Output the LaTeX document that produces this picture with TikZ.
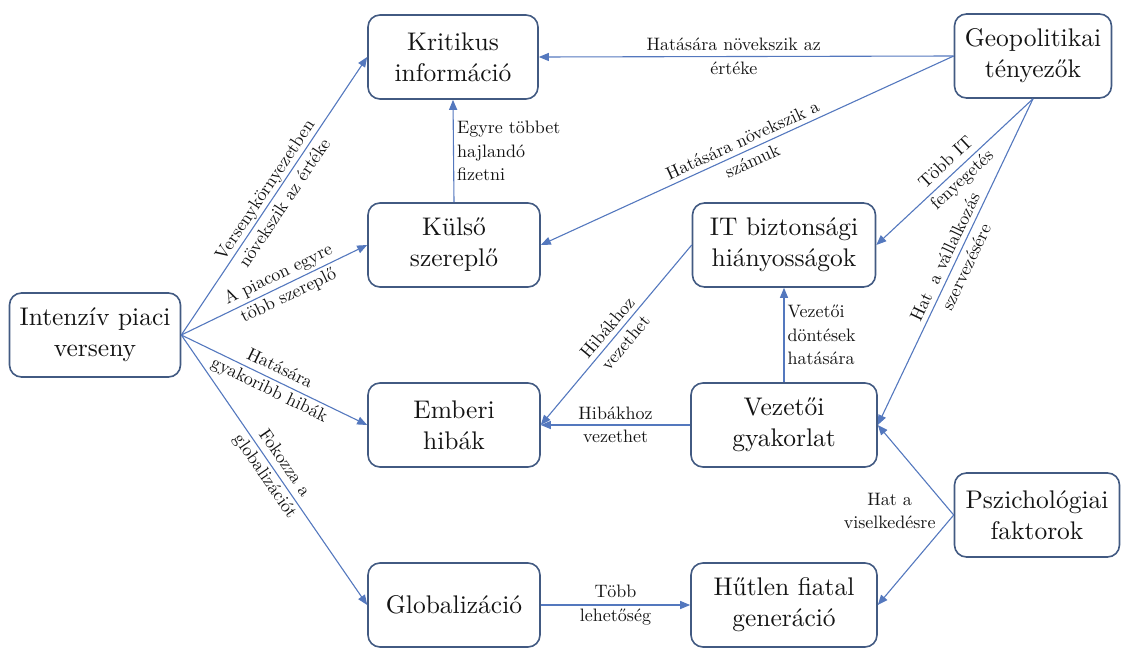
\documentclass[tikz,border=0pt]{standalone}
\usepackage{fontspec}
\setmainfont{lmroman10-regular.otf}
\usetikzlibrary{arrows.meta}
\definecolor{boxc}{RGB}{66,90,130}
\definecolor{linec}{RGB}{84,120,190}
\definecolor{txtc}{RGB}{20,20,20}
\begin{document}
\begin{tikzpicture}[x=1pt,y=-1pt,
  box/.style={draw=boxc, line width=1.6pt, rounded corners=12pt, fill=white, align=center,
    inner sep=0pt, font=\fontsize{25.5}{31}\selectfont, text=txtc, minimum height=84pt},
  lbl/.style={font=\fontsize{18}{23.5}\selectfont, text=txtc, align=center, inner sep=1pt},
  conn/.style={draw=linec, line width=1.1pt, -{Triangle[length=10pt,width=8pt]}}]
\useasboundingbox (0,0) rectangle (1127,648);

% nodes
\node[box, minimum width=170pt] (krit) at (453,57) {Kritikus\\információ};
\node[box, minimum width=157pt] (geo) at (1033,56) {Geopolitikai\\tényezők};
\node[box, minimum width=172pt] (kulso) at (454,245) {Külső\\szereplő};
\node[box, minimum width=183pt] (it) at (784,245) {IT biztonsági\\hiányosságok};
\node[box, minimum width=171pt] (intenziv) at (95,335) {Intenzív piaci\\verseny};
\node[box, minimum width=172pt] (emberi) at (454,425) {Emberi\\hibák};
\node[box, minimum width=186pt] (vez) at (784,425) {Vezetői\\gyakorlat};
\node[box, minimum width=165pt] (psz) at (1037,515) {Pszichológiai\\faktorok};
\node[box, minimum width=172pt] (glob) at (454,605) {Globalizáció};
\node[box, minimum width=186pt] (hutlen) at (784,605) {Hűtlen fiatal\\generáció};

% connectors from Intenzív piaci verseny
\draw[conn] (intenziv.east) -- node[lbl, sloped, midway] {Versenykörnyezetben\\növekszik az értéke} (krit.west);
\draw[conn] (intenziv.east) -- node[lbl, sloped, pos=0.55] {A piacon egyre\\több szereplő} (kulso.west);
\draw[conn] (intenziv.east) -- node[lbl, sloped, midway] {Hatására\\gyakoribb hibák} (emberi.west);
\draw[conn] (intenziv.east) -- node[lbl, sloped, midway] {Fokozza a\\globalizációt} (glob.west);

% Külső -> Kritikus
\draw[conn] (kulso.north) -- node[lbl, midway, right, align=left, xshift=2pt] {Egyre többet\\hajlandó\\fizetni} (krit.south);

% from Geopolitikai
\draw[conn] (geo.west) -- node[lbl, pos=0.53] {Hatására növekszik az\\értéke} (krit.east);
\draw[conn] (geo.west) -- node[lbl, sloped, midway] {Hatására növekszik a\\számuk} (kulso.east);
\draw[conn] (geo.south) -- node[lbl, sloped, midway] {Több IT\\fenyegetés} (it.east);
\draw[conn] (geo.south) -- node[lbl, sloped, midway] {Hat~~a vállalkozás\\szervezésére} (vez.east);

% Vezetői gyakorlat
\draw[conn] (vez.north) -- node[lbl, midway, right, align=left, xshift=2pt] {Vezetői\\döntések\\hatására} (it.south);
\draw[conn] (vez.west) -- node[lbl, midway] {Hibákhoz\\vezethet} (emberi.east);

% IT -> Emberi
\draw[conn] (it.west) -- node[lbl, sloped, midway] {Hibákhoz\\vezethet} (emberi.east);

% Pszichológiai faktorok
\draw[conn] (psz.west) -- (vez.east);
\draw[conn] (psz.west) -- (hutlen.east);
\node[lbl, anchor=east] (lblpsz) at ([xshift=-17pt, yshift=4pt]psz.west) {Hat a\\viselkedésre};

% Globalizáció -> Hűtlen
\draw[conn] (glob.east) -- node[lbl, midway] {Több\\lehetőség} (hutlen.west);
\end{tikzpicture}
\end{document}
